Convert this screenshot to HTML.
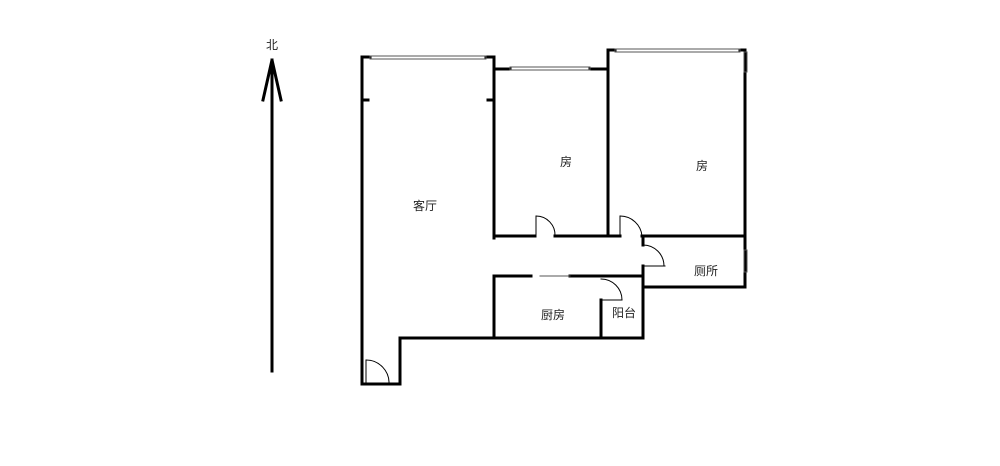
<!DOCTYPE html>
<html><head><meta charset="utf-8"><style>
body{margin:0;background:#fff;width:1000px;height:461px;overflow:hidden}
text{font-family:"Liberation Sans","Noto Sans CJK SC",sans-serif;font-size:12px;fill:#222}
</style></head><body>
<svg width="1000" height="461" viewBox="0 0 1000 461">
<g stroke="#000" fill="none" stroke-linecap="square">
<line x1="272" y1="60" x2="272" y2="371" stroke-width="3"/>
<polyline points="263,100 272,60 281,100" stroke-width="3"/>
<g stroke-width="3">
<polyline points="362,57 362,384 400,384 400,338 643,338 643,276"/>
<line x1="494" y1="57" x2="494" y2="238"/>
<line x1="494" y1="236" x2="535" y2="236"/>
<line x1="555" y1="236" x2="620" y2="236"/>
<line x1="608" y1="50" x2="608" y2="236"/>
<line x1="642" y1="236" x2="745" y2="236"/>
<line x1="745" y1="50" x2="745" y2="287"/>
<polyline points="643,236 643,245"/>
<polyline points="643,266 643,287 745,287"/>
<line x1="494" y1="276" x2="531" y2="276"/>
<line x1="570" y1="276" x2="643" y2="276"/>
<line x1="494" y1="276" x2="494" y2="338"/>
<line x1="601" y1="300" x2="601" y2="338"/>
<line x1="362" y1="57" x2="370" y2="57"/>
<line x1="486" y1="57" x2="494" y2="57"/>
<line x1="494" y1="69" x2="510" y2="69"/>
<line x1="590" y1="69" x2="608" y2="69"/>
<line x1="608" y1="50" x2="615" y2="50"/>
<line x1="740" y1="50" x2="745" y2="50"/>
<line x1="362" y1="100" x2="368" y2="100"/>
<line x1="488" y1="100" x2="494" y2="100"/>
</g>
<g stroke-width="1">
<rect x="370" y="56" width="116" height="3" stroke="#555"/>
<rect x="510" y="67" width="80" height="3" stroke="#555"/>
<rect x="615" y="49" width="125" height="3" stroke="#555"/>
<rect x="744" y="52" width="3" height="20" stroke="#555"/>
<rect x="744" y="250" width="3" height="22" stroke="#555"/>
<line x1="540" y1="276" x2="570" y2="276" stroke="#555"/>
<line x1="536" y1="236" x2="536" y2="216"/>
<path d="M536,216 A19,19 0 0 1 555,236"/>
<line x1="620" y1="236" x2="620" y2="216"/>
<path d="M620,216 A22,22 0 0 1 642,236"/>
<line x1="643" y1="266" x2="665" y2="266"/>
<path d="M643,245 A21,21 0 0 1 664,266"/>
<line x1="601" y1="300" x2="622" y2="300"/>
<path d="M601,279 A21,21 0 0 1 622,300"/>
<line x1="366" y1="384" x2="366" y2="360"/>
<path d="M366,360 A23,23 0 0 1 389,384"/>
</g>
</g>
<text x="272" y="49" text-anchor="middle">北</text>
<text x="425" y="210" text-anchor="middle">客厅</text>
<text x="566" y="166" text-anchor="middle">房</text>
<text x="702" y="170" text-anchor="middle">房</text>
<text x="706" y="275" text-anchor="middle">厕所</text>
<text x="553" y="319" text-anchor="middle">厨房</text>
<text x="624" y="317" text-anchor="middle">阳台</text>
</svg>
</body></html>
